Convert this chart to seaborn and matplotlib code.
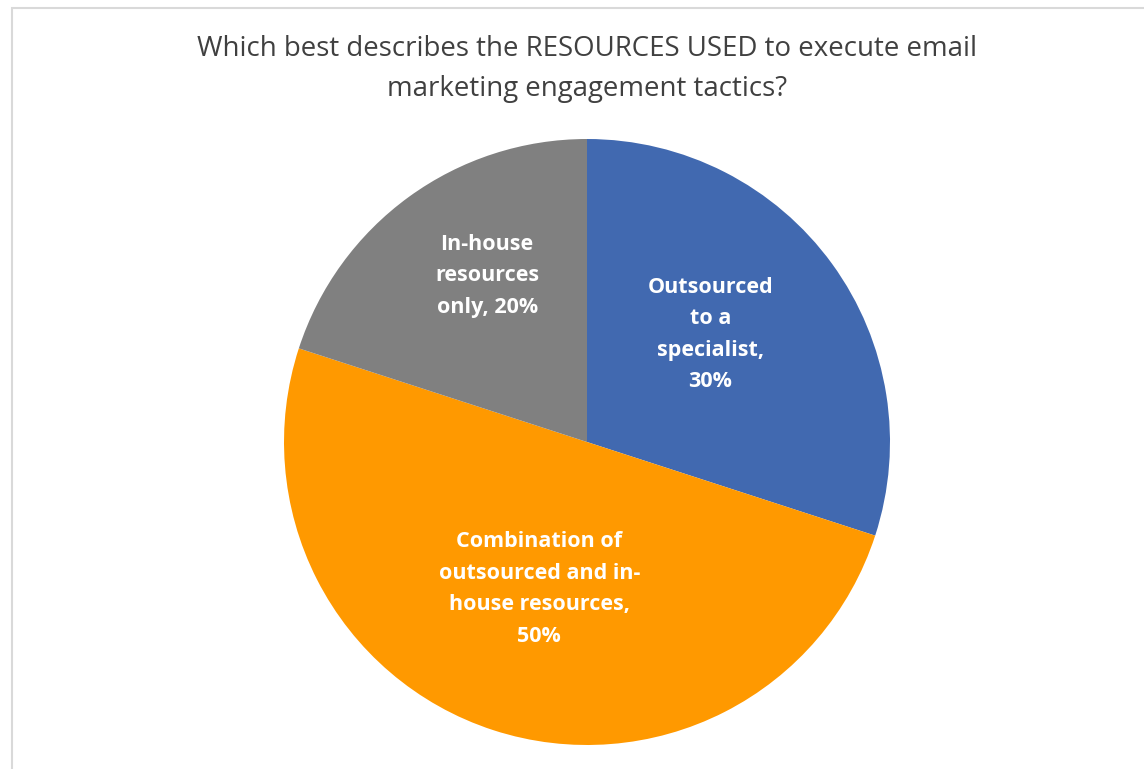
import matplotlib
matplotlib.use("Agg")
import matplotlib.pyplot as plt
import seaborn as sns
import numpy as np
from matplotlib.patches import Rectangle

# Survey responses
categories = ["Outsourced to a specialist",
              "Combination of outsourced and in-house resources",
              "In-house resources only"]
shares = [30, 50, 20]
slice_labels = ["Outsourced\nto a\nspecialist,\n30%",
                "Combination of\noutsourced and in-\nhouse resources,\n50%",
                "In-house\nresources\nonly, 20%"]
slice_colors = ["#4169B0", "#FF9900", "#808080"]
label_radius = [0.54, 0.51, 0.64]
label_turn = [5, 0, -5]  # degrees off the slice mid-angle

title = "Which best describes the RESOURCES USED to execute email\nmarketing engagement tactics?"

sns.set_theme(style="white")
plt.rcParams["font.family"] = ["Open Sans", "DejaVu Sans"]

fig = plt.figure(figsize=(11.44, 7.69), dpi=100)
fig.patch.set_facecolor("white")

# light chart-area border
fig.patches.append(Rectangle((12 / 1144, -0.1), 1.2, (769 - 8) / 769 + 0.1,
                             transform=fig.transFigure, fill=False,
                             edgecolor="#D9D9D9", linewidth=1.5, zorder=0))

fig.text(587 / 1144, 1 - 69 / 769, title, ha="center", va="center",
         fontsize=19.9, color="#404040", linespacing=1.6)

ax = fig.add_axes([(587 - 303) / 1144, (327 - 303) / 769, 606 / 1144, 606 / 769])
wedges, _ = ax.pie(shares, colors=slice_colors, startangle=90, counterclock=False,
                   radius=1.0, wedgeprops=dict(linewidth=0))
for w, lab, r, turn in zip(wedges, slice_labels, label_radius, label_turn):
    mid = np.deg2rad((w.theta1 + w.theta2) / 2 + turn)
    ax.text(r * np.cos(mid), r * np.sin(mid), lab, ha="center", va="center",
            color="white", fontsize=15.5, fontweight="bold", linespacing=1.66)
ax.set_xlim(-1, 1)
ax.set_ylim(-1, 1)
ax.set_aspect("equal")
ax.axis("off")

fig.savefig("out.png", dpi=100, facecolor="white")
